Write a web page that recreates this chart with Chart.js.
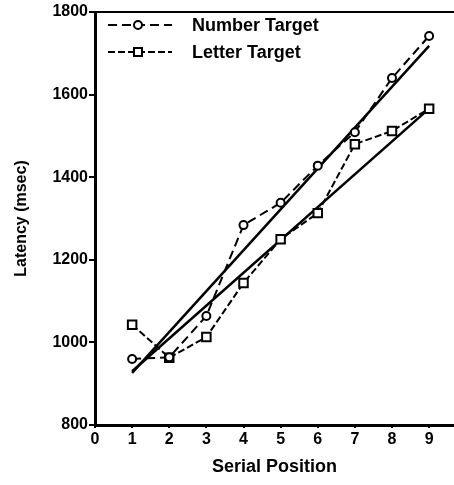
<!DOCTYPE html>
<html>
<head>
<meta charset="utf-8">
<script src="https://cdn.jsdelivr.net/npm/chart.js@4.4.0/dist/chart.umd.min.js"></script>
<style>
  html, body { margin: 0; padding: 0; background: #fff; }
</style>
</head>
<body>
<canvas id="latencyChart" width="454" height="485"></canvas>
<script>
const positions = [1, 2, 3, 4, 5, 6, 7, 8, 9];
const numberTarget = [960, 964, 1064, 1284, 1338, 1428, 1509, 1640, 1742];
const letterTarget = [1043, 963, 1013, 1144, 1250, 1313, 1480, 1512, 1566];
// end points of the two straight fitted lines (at positions 1 and 9)
const fitX = [1, 9];
const numberFit = [926, 1718];
const letterFit = [930, 1566];
const xTicks = [0, 1, 2, 3, 4, 5, 6, 7, 8, 9];
const yTicks = [800, 1000, 1200, 1400, 1600, 1800];

const font = 'Liberation Sans, Arial, sans-serif';
const toXY = (xs, ys) => xs.map((x, i) => ({ x: x, y: ys[i] }));

// legend drawn inside the plot: dashed sample + marker + label
const plotLegend = {
    id: 'plotLegend',
    afterDatasetsDraw(chart) {
        const ctx = chart.ctx;
        const a = chart.chartArea;
        [0, 1].forEach(i => {
            const ds = chart.data.datasets[i];
            const y = a.top + 13 + i * 27;
            ctx.save();
            ctx.strokeStyle = '#000';
            ctx.lineWidth = 2;
            ctx.setLineDash(ds.borderDash);
            ctx.beginPath();
            ctx.moveTo(a.left + 13, y);
            ctx.lineTo(a.left + 77, y);
            ctx.stroke();
            ctx.setLineDash([]);
            ctx.fillStyle = '#fff';
            const cx = a.left + 43;
            if (ds.pointStyle === 'rect') {
                ctx.fillRect(cx - 4, y - 4, 8, 8);
                ctx.strokeRect(cx - 4, y - 4, 8, 8);
            } else {
                ctx.beginPath();
                ctx.arc(cx, y, 4, 0, Math.PI * 2);
                ctx.fill();
                ctx.stroke();
            }
            ctx.fillStyle = '#000';
            ctx.font = 'bold 18px ' + font;
            ctx.textBaseline = 'middle';
            ctx.fillText(ds.label, a.left + 97, y + 1);
            ctx.restore();
        });
    }
};

// top frame line
const topFrame = {
    id: 'topFrame',
    afterDraw(chart) {
        const ctx = chart.ctx;
        const a = chart.chartArea;
        ctx.save();
        ctx.strokeStyle = '#000';
        ctx.lineWidth = 2;
        ctx.beginPath();
        ctx.moveTo(a.left, a.top);
        ctx.lineTo(a.right, a.top);
        ctx.stroke();
        ctx.restore();
    }
};

const ctx = document.getElementById('latencyChart').getContext('2d');

new Chart(ctx, {
    type: 'scatter',
    data: {
        datasets: [
            {
                label: 'Number Target',
                data: toXY(positions, numberTarget),
                showLine: true,
                borderColor: '#000',
                borderWidth: 2,
                borderDash: [9, 5],
                pointStyle: 'circle',
                pointRadius: 4,
                pointBorderWidth: 2,
                pointBackgroundColor: '#fff',
                pointBorderColor: '#000'
            },
            {
                label: 'Letter Target',
                data: toXY(positions, letterTarget),
                showLine: true,
                borderColor: '#000',
                borderWidth: 2,
                borderDash: [7, 3],
                pointStyle: 'rect',
                pointRadius: 6,
                pointBorderWidth: 2,
                pointBackgroundColor: '#fff',
                pointBorderColor: '#000'
            },
            {
                label: 'Number fit',
                data: toXY(fitX, numberFit),
                showLine: true,
                borderColor: '#000',
                borderWidth: 2.5,
                pointRadius: 0
            },
            {
                label: 'Letter fit',
                data: toXY(fitX, letterFit),
                showLine: true,
                borderColor: '#000',
                borderWidth: 2.5,
                pointRadius: 0
            }
        ]
    },
    options: {
        responsive: false,
        animation: false,
        layout: { autoPadding: false, padding: { top: 12, right: 0, left: 0, bottom: 0 } },
        plugins: {
            legend: { display: false },
            tooltip: { enabled: false }
        },
        scales: {
            x: {
                type: 'linear',
                min: 0,
                max: 9.67,
                afterBuildTicks: s => { s.ticks = xTicks.map(v => ({ value: v })); },
                afterFit: s => { s.height = 60; s.paddingLeft = 0; s.paddingRight = 0; },
                border: { color: '#000', width: 3 },
                grid: { drawOnChartArea: false, color: '#000', tickLength: 3, lineWidth: 2 },
                ticks: {
                    color: '#000',
                    padding: 2,
                    maxRotation: 0,
                    font: { family: font, size: 16, weight: 'bold' }
                },
                title: {
                    display: true,
                    text: 'Serial Position',
                    color: '#000',
                    padding: { top: 1, bottom: 7 },
                    font: { family: font, size: 18, weight: 'bold' }
                }
            },
            y: {
                min: 800,
                max: 1800,
                afterBuildTicks: s => { s.ticks = yTicks.map(v => ({ value: v })); },
                afterFit: s => { s.width = 95; },
                border: { color: '#000', width: 3 },
                grid: { drawOnChartArea: false, color: '#000', tickLength: 6, lineWidth: 2 },
                ticks: {
                    color: '#000',
                    padding: 1,
                    callback: v => String(v),
                    font: { family: font, size: 16, weight: 'bold' }
                },
                title: {
                    display: true,
                    text: 'Latency (msec)',
                    color: '#000',
                    padding: { top: 12, bottom: 0 },
                    font: { family: font, size: 16, weight: 'bold' }
                }
            }
        }
    },
    plugins: [plotLegend, topFrame]
});
</script>
</body>
</html>
